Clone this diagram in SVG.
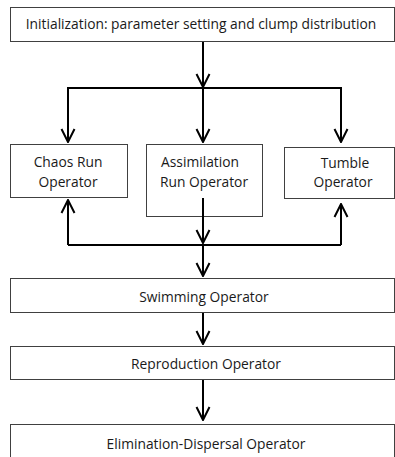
<svg xmlns="http://www.w3.org/2000/svg" width="395" height="457" viewBox="0 0 395 457">
<style>
.box{fill:#fff;stroke:#404040;stroke-width:1}
.t{font-family:"Open Sans","Liberation Sans",sans-serif;font-size:13.8px;fill:#1a1a1a;text-anchor:middle}
.c{fill:none;stroke:#000;stroke-width:2}
</style>
<defs>
<marker id="ah" viewBox="0 0 16 16" refX="15" refY="8" markerWidth="16" markerHeight="16" markerUnits="userSpaceOnUse" orient="auto">
<path d="M2,1.5 L15,8 L2,14.5" fill="none" stroke="#000" stroke-width="2"/>
</marker>
</defs>
<rect width="395" height="457" fill="#fff"/>
<g id="init"><rect class="box" x="10.5" y="7.5" width="384" height="34"/><text class="t" x="201" y="29">Initialization: parameter setting and clump distribution</text></g>
<g id="chaos"><rect class="box" x="10.5" y="144.5" width="117" height="53"/><text class="t" x="68" y="167">Chaos Run</text><text class="t" x="68" y="187">Operator</text></g>
<g id="assim"><rect class="box" x="146.5" y="144.5" width="116" height="72"/><text class="t" x="200" y="167">Assimilation</text><text class="t" x="204" y="187">Run Operator</text></g>
<g id="tumble"><rect class="box" x="284.5" y="147.5" width="110" height="51"/><text class="t" x="345" y="168">Tumble</text><text class="t" x="343" y="187">Operator</text></g>
<g id="swim"><rect class="box" x="10.5" y="278.5" width="384" height="34"/><text class="t" x="204" y="302">Swimming Operator</text></g>
<g id="repro"><rect class="box" x="10.5" y="346.5" width="384" height="33"/><text class="t" x="206" y="369">Reproduction Operator</text></g>
<g id="elim"><rect class="box" x="10.5" y="424.5" width="384" height="40"/><text class="t" x="206" y="449">Elimination-Dispersal Operator</text></g>
<g id="connectors">
<line class="c" x1="203" y1="42" x2="203" y2="87" marker-end="url(#ah)"/>
<polyline class="c" points="68,142 68,88 341,88 341,142"/>
<line class="c" x1="68" y1="88" x2="68" y2="142" marker-end="url(#ah)"/>
<line class="c" x1="203" y1="88" x2="203" y2="142" marker-end="url(#ah)"/>
<line class="c" x1="341" y1="88" x2="341" y2="142" marker-end="url(#ah)"/>
<line class="c" x1="203" y1="198" x2="203" y2="243" marker-end="url(#ah)"/>
<line class="c" x1="68" y1="245" x2="68" y2="200" marker-end="url(#ah)"/>
<line class="c" x1="341" y1="245" x2="341" y2="204" marker-end="url(#ah)"/>
<polyline class="c" points="68,245 341,245"/>
<line class="c" x1="203" y1="245" x2="203" y2="276" marker-end="url(#ah)"/>
<line class="c" x1="203" y1="313" x2="203" y2="344" marker-end="url(#ah)"/>
<line class="c" x1="203" y1="380" x2="203" y2="420" marker-end="url(#ah)"/>
</g>
</svg>
